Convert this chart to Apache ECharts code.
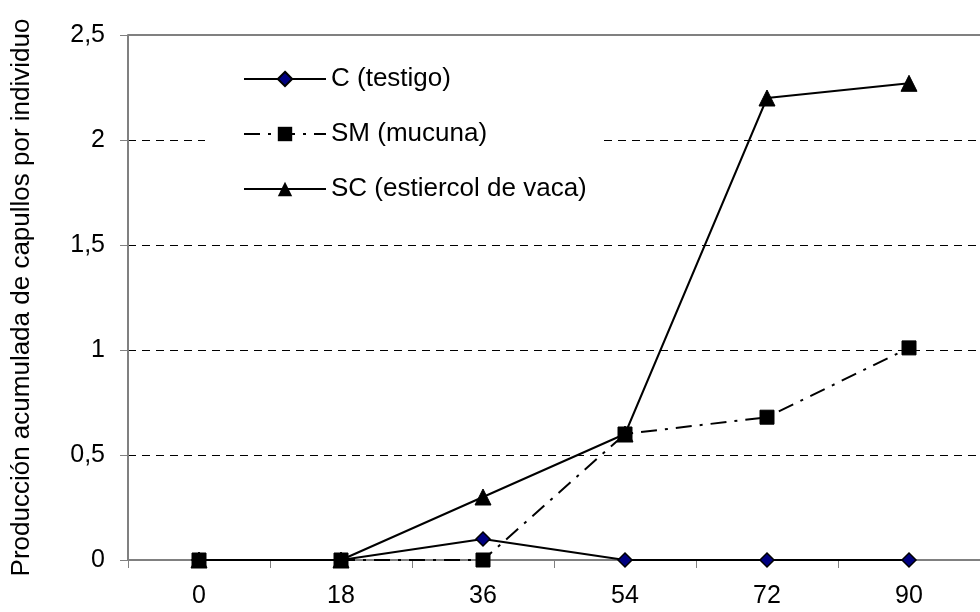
<!DOCTYPE html>
<html><head><meta charset="utf-8">
<script src="https://cdn.jsdelivr.net/npm/echarts@6/dist/echarts.min.js"></script>
<style>html,body{margin:0;padding:0;background:#fff}#c{width:980px;height:612px}</style>
</head><body><div id="c"></div>
<script>
const categories = ['0','18','36','54','72','90'];
const seriesC  = [0, 0, 0.1, 0, 0, 0];
const seriesSM = [0, 0, 0, 0.6, 0.68, 1.01];
const seriesSC = [0, 0, 0.3, 0.6, 2.2, 2.27];
const names = ['C (testigo)', 'SM (mucuna)', 'SC (estiercol de vaca)'];
const yTitle = 'Producción acumulada de capullos por individuo';

const chart = echarts.init(document.getElementById('c'), null, {renderer:'canvas'});
const font = '"Liberation Sans", Arial, sans-serif';
chart.setOption({
  animation:false,
  backgroundColor:'#fff',
  textStyle:{fontFamily:font},
  grid:{left:128, right:0, top:35, bottom:52, containLabel:false},
  legend:{
    orient:'vertical', left:205, top:56, z:10,
    backgroundColor:'#fff', padding:[10,17,10,38],
    itemWidth:82, itemHeight:18, itemGap:29,
    textStyle:{fontSize:26, color:'#000', fontFamily:font},
    data:names
  },
  xAxis:{
    type:'category', data:categories, boundaryGap:true,
    axisLine:{lineStyle:{color:'#808080', width:2}},
    axisTick:{show:true, inside:false, length:8, alignWithLabel:false, lineStyle:{color:'#808080', width:1}},
    axisLabel:{fontSize:25, color:'#000', margin:24, fontFamily:font},
    splitLine:{show:false}
  },
  yAxis:{
    type:'value', min:0, max:2.5, interval:0.5,
    name:yTitle, nameLocation:'middle', nameGap:93, nameRotate:90,
    nameTextStyle:{fontSize:26, color:'#000', fontFamily:font},
    axisLine:{show:true, lineStyle:{color:'#808080', width:2}},
    axisTick:{show:true, length:8, lineStyle:{color:'#808080'}},
    axisLabel:{fontSize:25, color:'#000', margin:23, fontFamily:font,
      formatter:v=>String(v).replace('.',',')},
    splitLine:{show:true, lineStyle:{color:'#000', type:[8,6], width:1}}
  },
  graphic:[{type:'line', shape:{x1:128,y1:35,x2:980,y2:35}, style:{stroke:'#808080', lineWidth:2}, z:5}],
  series:[
    {name:names[0], type:'line', data:seriesC, symbol:'diamond', symbolSize:14,
     lineStyle:{color:'#000', width:2}, itemStyle:{color:'#000080', borderColor:'#000', borderWidth:1.5}, z:3},
    {name:names[1], type:'line', data:seriesSM, symbol:'rect', symbolSize:14,
     lineStyle:{color:'#000', width:2, type:[16,8,3,8]}, itemStyle:{color:'#000', borderColor:'#000'}, z:4},
    {name:names[2], type:'line', data:seriesSC, symbol:'triangle', symbolSize:16,
     lineStyle:{color:'#000', width:2}, itemStyle:{color:'#000', borderColor:'#000'}, z:2}
  ]
});
</script></body></html>
